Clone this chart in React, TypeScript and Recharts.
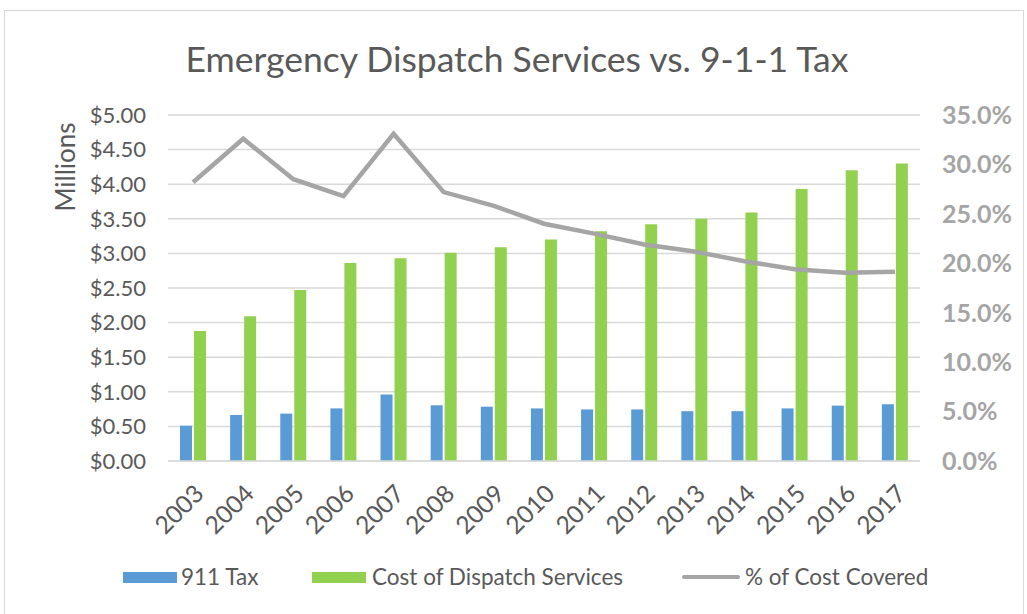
import React from 'react';
import {
  ComposedChart,
  Bar,
  Line,
  XAxis,
  YAxis,
  CartesianGrid,
} from 'recharts';

const years = ['2003', '2004', '2005', '2006', '2007', '2008', '2009', '2010', '2011', '2012', '2013', '2014', '2015', '2016', '2017'];
const taxValues = [0.51, 0.665, 0.685, 0.76, 0.96, 0.805, 0.785, 0.76, 0.745, 0.745, 0.72, 0.72, 0.76, 0.8, 0.82];
const costValues = [1.88, 2.09, 2.47, 2.86, 2.93, 3.01, 3.09, 3.2, 3.32, 3.42, 3.5, 3.59, 3.93, 4.2, 4.3];
const coveredPct = [28.2, 32.6, 28.5, 26.8, 33.1, 27.2, 25.8, 24.0, 23.0, 21.9, 21.2, 20.2, 19.4, 19.05, 19.15];

const leftTicks = [0, 0.5, 1, 1.5, 2, 2.5, 3, 3.5, 4, 4.5, 5];
const rightTicks = [0, 5, 10, 15, 20, 25, 30, 35];

const BLUE = '#5b9bd5';
const GREEN = '#92d050';
const GRAY = '#a5a5a5';
const TEXT = '#595959';

const data = years.map((year, i) => ({
  year,
  tax: taxValues[i],
  cost: costValues[i],
  pct: coveredPct[i],
}));

function MillionsLabel() {
  return (
    <text
      x={75}
      y={167}
      transform="rotate(-90, 75, 167)"
      textAnchor="middle"
      fill={TEXT}
      fontSize={26}
    >
      Millions
    </text>
  );
}

export default function App() {
  return (
    <div
      style={{
        position: 'fixed',
        left: 0,
        top: 0,
        width: 1027,
        height: 614,
        background: '#fff',
        fontFamily: 'Lato, sans-serif',
        overflow: 'hidden',
      }}
    >
      <div
        style={{
          position: 'absolute',
          left: 4,
          top: 10,
          width: 1018,
          height: 620,
          border: '1px solid #d9d9d9',
        }}
      />
      <div
        style={{
          position: 'absolute',
          left: 0,
          top: 38,
          width: 1034,
          textAlign: 'center',
          fontSize: 35.5,
          color: TEXT,
          lineHeight: '42px',
        }}
      >
        Emergency Dispatch Services vs. 9-1-1 Tax
      </div>
      <div style={{ position: 'absolute', left: 0, top: 0 }}>
        <ComposedChart
          width={1027}
          height={614}
          data={data}
          margin={{ top: 115, right: 20, bottom: 63, left: 88 }}
          barGap={2}
        >
          <CartesianGrid yAxisId="left" vertical={false} stroke="#d9d9d9" strokeWidth={1.5} />
          <XAxis
            dataKey="year"
            height={90}
            axisLine={{ stroke: '#d9d9d9', strokeWidth: 1.5 }}
            tickLine={false}
            interval={0}
            angle={-45}
            textAnchor="end"
            tickMargin={16}
            tick={{ fill: TEXT, fontSize: 24.5 }}
          />
          <YAxis
            yAxisId="left"
            width={80}
            domain={[0, 5]}
            ticks={leftTicks}
            axisLine={false}
            tickLine={false}
            tickMargin={16}
            tick={{ fill: TEXT, fontSize: 22 }}
            tickFormatter={(v: number) => `$${v.toFixed(2)}`}
            label={<MillionsLabel />}
          />
          <YAxis
            yAxisId="right"
            orientation="right"
            width={87}
            domain={[0, 35]}
            ticks={rightTicks}
            axisLine={false}
            tickLine={false}
            tickMargin={16}
            tick={{ fill: GRAY, fontSize: 25, fontWeight: 700 }}
            tickFormatter={(v: number) => `${v.toFixed(1)}%`}
          />
          <Bar yAxisId="left" dataKey="tax" name="911 Tax" fill={BLUE} barSize={12} isAnimationActive={false} />
          <Bar yAxisId="left" dataKey="cost" name="Cost of Dispatch Services" fill={GREEN} barSize={12} isAnimationActive={false} />
          <Line
            yAxisId="right"
            dataKey="pct"
            name="% of Cost Covered"
            type="linear"
            stroke={GRAY}
            strokeWidth={4.5}
            dot={false}
            isAnimationActive={false}
          />
        </ComposedChart>
      </div>
      <div style={{ position: 'absolute', top: 564, left: 0, fontSize: 22.5, color: TEXT, lineHeight: '26px' }}>
        <div style={{ position: 'absolute', left: 123, top: 8, width: 54, height: 11, background: BLUE }} />
        <div style={{ position: 'absolute', left: 181, top: 0, whiteSpace: 'nowrap' }}>911 Tax</div>
        <div style={{ position: 'absolute', left: 312, top: 8, width: 54, height: 11, background: GREEN }} />
        <div style={{ position: 'absolute', left: 372, top: 0, whiteSpace: 'nowrap' }}>Cost of Dispatch Services</div>
        <div style={{ position: 'absolute', left: 682, top: 11, width: 58, height: 4, borderRadius: 2, background: GRAY }} />
        <div style={{ position: 'absolute', left: 745, top: 0, whiteSpace: 'nowrap' }}>% of Cost Covered</div>
      </div>
    </div>
  );
}
